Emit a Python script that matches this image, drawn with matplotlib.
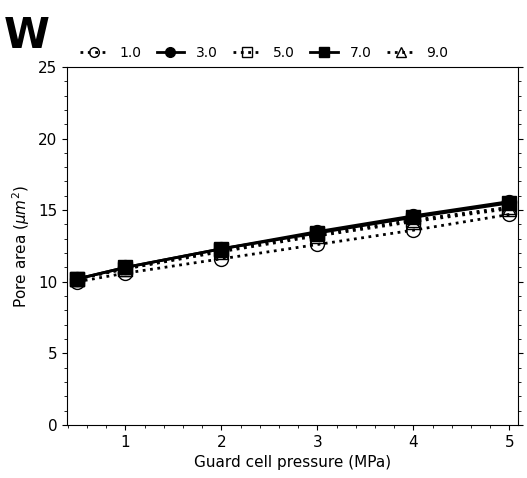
import matplotlib
matplotlib.use("Agg")
import matplotlib.pyplot as plt
from matplotlib.ticker import MultipleLocator

pressure = [0.5, 1, 2, 3, 4, 5]
labels = ["1.0", "3.0", "5.0", "7.0", "9.0"]
area_1 = [10.0, 10.6, 11.6, 12.6, 13.6, 14.7]
area_3 = [10.2, 11.0, 12.3, 13.5, 14.6, 15.6]
area_5 = [10.2, 10.9, 12.2, 13.3, 14.3, 15.2]
area_7 = [10.2, 11.0, 12.3, 13.4, 14.5, 15.5]
area_9 = [10.2, 10.9, 12.1, 13.2, 14.2, 15.1]

series = [area_1, area_3, area_5, area_7, area_9]
markers = ["o", "o", "s", "s", "^"]
filled = [False, True, False, True, False]
styles = [":", "-", ":", "-", ":"]

fig = plt.figure(figsize=(5.27, 4.78), dpi=100)
ax = fig.add_axes([0.127, 0.111, 0.856, 0.749])

for vals, lab, m, f, ls in zip(series, labels, markers, filled, styles):
    # hollow markers, filled ones drawn on top
    ax.plot(pressure, vals, linestyle=ls, marker=m, color="black", lw=2,
            markersize=10, markerfacecolor="black" if f else "none",
            markeredgecolor="black", markeredgewidth=1,
            zorder=3 if f else 2, label=lab)

ax.set_xlim(0.39, 5.09)
ax.set_ylim(0, 25)
ax.xaxis.set_major_locator(MultipleLocator(1))
ax.xaxis.set_minor_locator(MultipleLocator(0.2))
ax.yaxis.set_major_locator(MultipleLocator(5))
ax.yaxis.set_minor_locator(MultipleLocator(1))
ax.tick_params(axis="both", which="major", labelsize=11)
ax.tick_params(axis="y", which="both", right=True)

ax.set_xlabel("Guard cell pressure (MPa)", fontsize=11)
ax.set_ylabel(r"Pore area ($\mu m^2$)", fontsize=11)

ax.legend(loc="lower center", bbox_to_anchor=(0.437, 1.005), ncol=5,
          frameon=False, fontsize=10, handlelength=2.0, columnspacing=1.1,
          handletextpad=0.85, borderaxespad=0, markerscale=0.7)

fig.text(0.008, 0.9, "W", fontsize=30, fontweight="bold")

fig.savefig("out.png", dpi=100)
